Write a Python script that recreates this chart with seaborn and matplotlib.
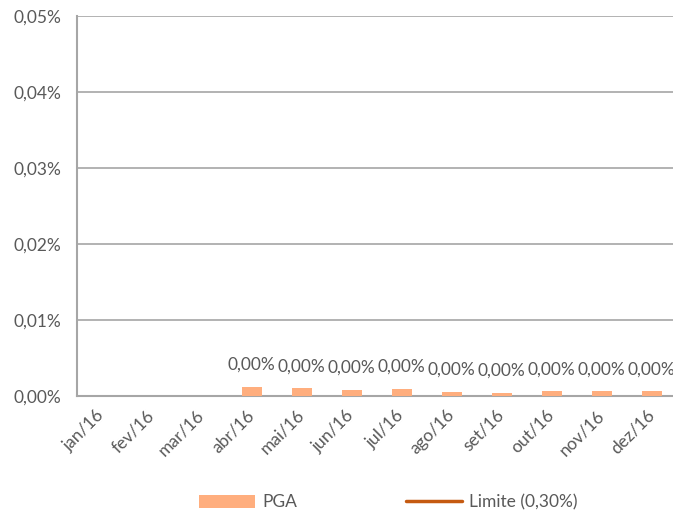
import numpy as np
import pandas as pd
import matplotlib.pyplot as plt
import seaborn as sns
from matplotlib.lines import Line2D
from matplotlib.patches import Patch

# Dados (valores em %)
meses = ["jan/16", "fev/16", "mar/16", "abr/16", "mai/16", "jun/16",
         "jul/16", "ago/16", "set/16", "out/16", "nov/16", "dez/16"]
pga = [np.nan, np.nan, np.nan, 0.0012, 0.0010, 0.0008,
       0.0009, 0.0005, 0.0004, 0.0006, 0.0006, 0.0006]
limite = [0.30] * 12
y_ticks = [0.00, 0.01, 0.02, 0.03, 0.04, 0.05]

cor_pga = "#FFAE7E"
cor_limite = "#C55A11"
cinza = "#595959"
cinza_linha = "#A6A6A6"
fs = 12.5

sns.set_style("white")
plt.rcParams["font.family"] = ["Lato", "DejaVu Sans"]

df = pd.DataFrame({"mes": meses, "pga": pga, "limite": limite})

fig = plt.figure(figsize=(6.73, 5.13), dpi=100)
ax = fig.add_axes([76.7 / 673, 1 - 396 / 513, 600 / 673, 380 / 513])

sns.barplot(data=df, x="mes", y="pga", color=cor_pga, width=0.4,
            saturation=1, linewidth=0, ax=ax, zorder=3)
sns.lineplot(x=np.arange(len(meses)), y=df["limite"], color=cor_limite,
             linewidth=2.5, ax=ax)

ax.set_xlim(-0.5, len(meses) - 0.5)
ax.set_ylim(0, 0.05)
ax.set_yticks(y_ticks)
ax.set_yticklabels([f"{v:.2f}%".replace(".", ",") for v in y_ticks],
                   fontsize=fs, color=cinza)
ax.set_xticks(np.arange(len(meses)))
ax.set_xticklabels(meses, rotation=45, ha="right", va="center",
                   rotation_mode="anchor", fontsize=fs, color=cinza)
ax.tick_params(axis="x", length=0, pad=12)
ax.tick_params(axis="y", length=5, color=cinza_linha, width=1.2, pad=6)
ax.set_xticks(np.arange(len(meses) + 1) - 0.5, minor=True)
ax.tick_params(axis="x", which="minor", length=5, color=cinza_linha,
               width=1.2)
ax.set_xlabel("")
ax.set_ylabel("")

ax.yaxis.grid(True, color=cinza_linha, linewidth=1.2)
ax.set_axisbelow(True)
for s in ["top", "right"]:
    ax.spines[s].set_visible(False)
for s in ["left", "bottom"]:
    ax.spines[s].set_color(cinza_linha)
    ax.spines[s].set_linewidth(1.5)
    ax.spines[s].set_zorder(1)

# Rótulos de dados
for i, v in enumerate(pga):
    if np.isnan(v):
        continue
    ax.annotate(f"{v:.2f}%".replace(".", ","), (i, v),
                xytext=(0, 16), textcoords="offset points",
                ha="center", va="center", fontsize=fs, color=cinza,
                annotation_clip=False)

handles = [Patch(facecolor=cor_pga, edgecolor="none"),
           Line2D([0], [0], color=cor_limite, linewidth=2.5)]
fig.legend(handles, ["PGA", "Limite (0,30%)"], loc="center",
           bbox_to_anchor=(0.577, 0.021), ncol=2, frameon=False,
           fontsize=fs, labelcolor=cinza, handlelength=3.2,
           handleheight=0.8, columnspacing=6.3, handletextpad=0.4)

plt.savefig("out.png", dpi=100)
